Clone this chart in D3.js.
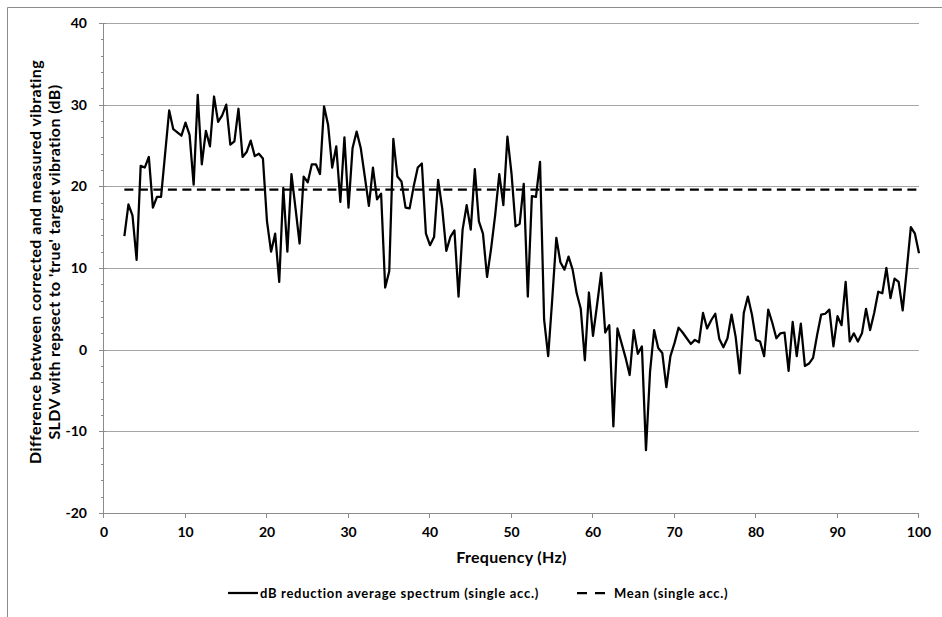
<!DOCTYPE html>
<html>
<head>
<meta charset="utf-8">
<script src="https://cdn.jsdelivr.net/npm/d3@7"></script>
<style>
    body { margin: 0; background: #fff; }
    text { font-family: Lato, "Open Sans", sans-serif; font-weight: bold; fill: #000; }
</style>
</head>
<body>
<div id="chart"></div>
<script>
// frequency grid of the averaged spectrum (Hz)
const freqStart = 2.5;
const freqStep = 0.5;

// dB reduction average spectrum (single acc.), one value per frequency bin
const reduction = [
    13.9, 17.8, 16.4, 11.0, 22.5, 22.3, 23.6, 17.4, 18.7, 18.7,
    24.0, 29.3, 27.0, 26.6, 26.2, 27.8, 26.3, 20.2, 31.2, 22.7,
    26.8, 24.9, 31.0, 27.9, 28.7, 30.0, 25.1, 25.5, 29.5, 23.6,
    24.2, 25.6, 23.7, 24.0, 23.4, 15.7, 12.0, 14.2, 8.3, 19.8,
    12.0, 21.5, 17.3, 13.0, 21.2, 20.5, 22.7, 22.7, 21.5, 29.8,
    27.5, 22.3, 24.9, 18.1, 26.0, 17.4, 24.7, 26.7, 24.7, 21.2,
    17.6, 22.3, 18.4, 19.1, 7.6, 9.6, 25.8, 21.2, 20.6, 17.4,
    17.3, 20.0, 22.3, 22.8, 14.2, 12.8, 13.8, 20.8, 17.3, 12.1,
    13.8, 14.6, 6.5, 14.7, 17.7, 14.7, 22.1, 15.7, 14.2, 8.9,
    12.4, 16.5, 21.5, 17.7, 26.1, 21.6, 15.1, 15.4, 20.3, 6.5,
    18.8, 18.7, 23.0, 3.7, -0.8, 6.2, 13.7, 10.7, 9.8, 11.4,
    9.8, 6.9, 5.0, -1.3, 7.0, 1.7, 5.5, 9.4, 2.1, 3.0,
    -9.4, 2.6, 0.8, -1.0, -3.1, 2.4, -0.5, 0.4, -12.3, -2.7,
    2.4, 0.2, -0.4, -4.6, -0.8, 0.8, 2.7, 2.1, 1.4, 0.7,
    1.2, 0.9, 4.5, 2.6, 3.6, 4.4, 1.3, 0.3, 1.4, 4.3,
    1.6, -2.9, 4.5, 6.5, 4.3, 1.2, 1.0, -0.8, 4.9, 3.3,
    1.4, 2.0, 2.1, -2.6, 3.4, -0.8, 3.2, -2.0, -1.7, -1.0,
    1.8, 4.3, 4.4, 4.9, 0.4, 4.1, 3.0, 8.3, 1.0, 2.0,
    1.0, 2.0, 5.0, 2.4, 4.5, 7.1, 6.9, 10.0, 6.3, 8.7,
    8.3, 4.8, 9.8, 15.0, 14.2, 11.8
];

// Mean (single acc.)
const meanValue = 19.6;

const xTicks = [0, 10, 20, 30, 40, 50, 60, 70, 80, 90, 100];
const yTicks = [-20, -10, 0, 10, 20, 30, 40];
const yMinorTicks = d3.range(-20, 40.1, 2);

const legendLabels = ["dB reduction average spectrum (single acc.)", "Mean (single acc.)"];

const config = {
    width: 942,
    height: 617,
    margin: {top: 23, right: 23, bottom: 104, left: 104}
};

const innerWidth = config.width - config.margin.left - config.margin.right;
const innerHeight = config.height - config.margin.top - config.margin.bottom;

const freqs = reduction.map((d, i) => freqStart + i * freqStep);
const points = reduction.map((v, i) => ({f: freqs[i], v: v}));

const svg = d3.select("#chart").append("svg")
    .attr("width", config.width)
    .attr("height", config.height);

// outer chart frame (top and left edges only are visible)
svg.append("path")
    .attr("d", "M 7.5,617 L 7.5,7.5 L 942,7.5")
    .attr("fill", "none")
    .attr("stroke", "#8c8c8c")
    .attr("stroke-width", 1);

const g = svg.append("g")
    .attr("transform", `translate(${config.margin.left}, ${config.margin.top})`);

const x = d3.scaleLinear().domain([0, 100]).range([0, innerWidth]);
const y = d3.scaleLinear().domain([-20, 40]).range([innerHeight, 0]);

// horizontal gridlines
g.selectAll(".grid")
    .data(yTicks.filter(d => d > -20))
    .enter()
    .append("line")
    .attr("class", "grid")
    .attr("x1", 0)
    .attr("x2", innerWidth)
    .attr("y1", d => Math.round(y(d)) + 0.5)
    .attr("y2", d => Math.round(y(d)) + 0.5)
    .attr("stroke", "#a6a6a6")
    .attr("stroke-width", 1);

// y axis: minor ticks outside, major ticks crossing
const yAxis = g.append("g").attr("class", "y-axis");
yAxis.selectAll(".minor")
    .data(yMinorTicks)
    .enter()
    .append("line")
    .attr("x1", -3)
    .attr("x2", 0)
    .attr("y1", d => Math.round(y(d)) + 0.5)
    .attr("y2", d => Math.round(y(d)) + 0.5)
    .attr("stroke", "#8c8c8c");
yAxis.selectAll(".major")
    .data(yTicks)
    .enter()
    .append("line")
    .attr("x1", -5)
    .attr("x2", 2)
    .attr("y1", d => Math.round(y(d)) + 0.5)
    .attr("y2", d => Math.round(y(d)) + 0.5)
    .attr("stroke", "#8c8c8c");
yAxis.append("line")
    .attr("x1", -0.5).attr("x2", -0.5)
    .attr("y1", 0).attr("y2", innerHeight)
    .attr("stroke", "#8c8c8c");
yAxis.selectAll(".ylabel")
    .data(yTicks)
    .enter()
    .append("text")
    .attr("x", -17)
    .attr("y", d => y(d))
    .attr("dy", "0.35em")
    .attr("text-anchor", "end")
    .attr("font-size", 14)
    .text(d => d);

// x axis
const xAxis = g.append("g").attr("class", "x-axis")
    .attr("transform", `translate(0, ${innerHeight})`);
xAxis.append("line")
    .attr("x1", 0).attr("x2", innerWidth)
    .attr("y1", 0.5).attr("y2", 0.5)
    .attr("stroke", "#8c8c8c");
xAxis.selectAll(".xtick")
    .data(xTicks)
    .enter()
    .append("line")
    .attr("x1", d => Math.round(x(d)) - 0.5)
    .attr("x2", d => Math.round(x(d)) - 0.5)
    .attr("y1", 0)
    .attr("y2", 5)
    .attr("stroke", "#8c8c8c");
xAxis.selectAll(".xlabel")
    .data(xTicks)
    .enter()
    .append("text")
    .attr("x", d => x(d))
    .attr("y", 19)
    .attr("dy", "0.35em")
    .attr("text-anchor", "middle")
    .attr("font-size", 14)
    .text(d => d);

// axis titles
svg.append("text")
    .attr("x", config.margin.left + x(50))
    .attr("y", 563)
    .attr("text-anchor", "middle")
    .attr("font-size", 16)
    .attr("letter-spacing", 0.3)
    .text("Frequency (Hz)");

const yTitle = svg.append("text")
    .attr("transform", `translate(0, 262) rotate(-90)`)
    .attr("text-anchor", "middle")
    .attr("font-size", 16)
    .attr("letter-spacing", 0.4);
yTitle.append("tspan").attr("x", 0).attr("y", 41)
    .text("Difference between corrected and measured vibrating");
yTitle.append("tspan").attr("x", 0).attr("y", 60)
    .text("SLDV with repsect to 'true' target vibration (dB)");

// series
const line = d3.line()
    .x(d => x(d.f))
    .y(d => y(d.v));

g.append("path")
    .datum(points)
    .attr("d", line)
    .attr("fill", "none")
    .attr("stroke", "#000")
    .attr("stroke-width", 2.25)
    .attr("stroke-linejoin", "round");

g.append("line")
    .attr("x1", x(freqs[0]))
    .attr("x2", x(freqs[freqs.length - 1]))
    .attr("y1", y(meanValue))
    .attr("y2", y(meanValue))
    .attr("stroke", "#000")
    .attr("stroke-width", 2.25)
    .attr("stroke-dasharray", "9,5.5");

// legend
const legend = svg.append("g").attr("transform", "translate(0, 593)");
legend.append("line")
    .attr("x1", 228).attr("x2", 258)
    .attr("y1", 0).attr("y2", 0)
    .attr("stroke", "#000")
    .attr("stroke-width", 2.25);
legend.append("text")
    .attr("x", 260)
    .attr("dy", "0.35em")
    .attr("font-size", 13)
    .attr("letter-spacing", 0.7)
    .text(legendLabels[0]);
legend.append("line")
    .attr("x1", 577).attr("x2", 605)
    .attr("y1", 0).attr("y2", 0)
    .attr("stroke", "#000")
    .attr("stroke-width", 2.25)
    .attr("stroke-dasharray", "10,8");
legend.append("text")
    .attr("x", 614)
    .attr("dy", "0.35em")
    .attr("font-size", 13)
    .attr("letter-spacing", 0.7)
    .text(legendLabels[1]);
</script>
</body>
</html>
